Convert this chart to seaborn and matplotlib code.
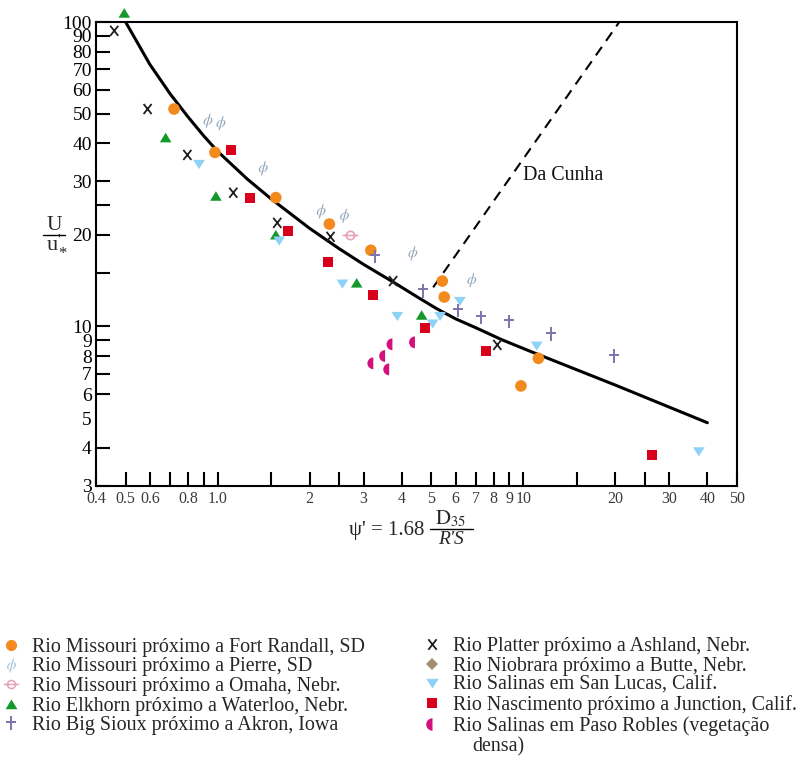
import numpy as np
import pandas as pd
import matplotlib
matplotlib.use("Agg")
import matplotlib.pyplot as plt
import seaborn as sns
from matplotlib.lines import Line2D
from matplotlib.markers import MarkerStyle
from matplotlib.path import Path

# ---------------- data ----------------
fort_randall_x = [0.72, 0.98, 1.55, 2.32, 3.17, 5.43, 5.51, 9.82, 11.2]
fort_randall_y = [51.8, 37.3, 26.5, 21.7, 17.8, 14.1, 12.5, 6.38, 7.86]
pierre_x = [0.93, 1.025, 1.41, 2.18, 2.60, 4.35, 6.78]
pierre_y = [47.4, 46.5, 33.1, 23.9, 23.1, 17.4, 14.2]
omaha_x = [2.72]
omaha_y = [19.9]
elkhorn_x = [0.495, 0.676, 0.987, 1.55, 2.85, 4.65]
elkhorn_y = [107.0, 41.7, 26.8, 20.0, 13.9, 10.9]
big_sioux_x = [3.27, 4.69, 6.10, 7.25, 8.97, 12.3, 19.8]
big_sioux_y = [17.0, 13.1, 11.3, 10.7, 10.4, 9.43, 8.0]
platte_x = [0.459, 0.59, 0.796, 1.125, 1.567, 2.34, 3.75, 8.22]
platte_y = [93.6, 51.8, 36.6, 27.5, 21.9, 19.7, 14.1, 8.70]
niobrara_x = []
niobrara_y = []
san_lucas_x = [0.869, 1.59, 2.56, 3.87, 5.05, 5.34, 6.20, 11.06, 37.5]
san_lucas_y = [34.1, 19.1, 13.8, 10.8, 10.2, 10.8, 12.1, 8.63, 3.88]
nascimento_x = [1.103, 1.273, 1.70, 2.30, 3.23, 4.77, 7.56, 26.4]
nascimento_y = [37.9, 26.4, 20.6, 16.3, 12.7, 9.9, 8.33, 3.78]
paso_robles_x = [3.73, 4.42, 3.53, 3.23, 3.64]
paso_robles_y = [8.74, 8.87, 8.0, 7.57, 7.23]

curve_x = [0.5, 0.6, 0.7, 0.8, 0.9, 1.0, 1.25, 1.5, 2.0, 2.5, 3.0, 3.75, 4.5, 5.2, 6.0, 7.0, 8.5, 10.5, 20.0, 40.0]
curve_y = [100, 72.6, 58.0, 48.8, 42.3, 37.6, 30.5, 26.2, 21.0, 18.0, 16.0, 14.0, 12.5, 11.45, 10.6, 9.9, 9.05, 8.3, 6.42, 4.83]
dacunha_x = [5.07, 20.6]
dacunha_y = [13.45, 100]

xticks = [0.4, 0.5, 0.6, 0.7, 0.8, 0.9, 1.0, 1.5, 2, 2.5, 3, 4, 5, 6, 7, 8, 9, 10, 15, 20, 25, 30, 40, 50]
xticklabels = ["0.4", "0.5", "0.6", "", "0.8", "", "1.0", "", "2", "", "3", "4", "5", "6", "7", "8", "9", "10",
               "", "20", "", "30", "40", "50"]
yticks = [3, 4, 5, 6, 7, 8, 9, 10, 15, 20, 25, 30, 40, 50, 60, 70, 80, 90, 100]
yticklabels = ["3", "4", "5", "6", "7", "8", "9", "10", "", "20", "", "30", "40", "50", "60", "70", "80", "90", "100"]

labels = [
    "Rio Missouri próximo a Fort Randall, SD",
    "Rio Missouri próximo a Pierre, SD",
    "Rio Missouri próximo a Omaha, Nebr.",
    "Rio Elkhorn próximo a Waterloo, Nebr.",
    "Rio Big Sioux próximo a Akron, Iowa",
    "Rio Platter próximo a Ashland, Nebr.",
    "Rio Niobrara próximo a Butte, Nebr.",
    "Rio Salinas em San Lucas, Calif.",
    "Rio Nascimento próximo a Junction, Calif.",
    "Rio Salinas em Paso Robles (vegetação",
]

# ---------------- style ----------------
sns.set_style("white")
plt.rcParams["font.family"] = ["Liberation Serif", "DejaVu Serif"]
plt.rcParams["mathtext.fontset"] = "stix"

# marker shapes
half_left = MarkerStyle("o", fillstyle="left")
tri_up = [(-1.0, -0.8), (1.0, -0.8), (0.0, 0.85)]
tri_down = [(-1.0, 0.75), (1.0, 0.75), (0.0, -0.8)]
cross_path = Path([(0, -1.0), (0, 1.0), (-0.75, 0.2), (0.75, 0.2)],
                  [Path.MOVETO, Path.LINETO, Path.MOVETO, Path.LINETO])
x_path = Path([(-0.8, -1.0), (0.8, 1.0), (-0.8, 1.0), (0.8, -1.0)],
              [Path.MOVETO, Path.LINETO, Path.MOVETO, Path.LINETO])
ominus_path = Path.make_compound_path(
    Path.unit_circle(), Path([(-1.9, 0), (1.9, 0)], [Path.MOVETO, Path.LINETO]))

C_ORANGE = "#F28A1E"
C_PHI = "#93A6BA"
C_PINK = "#E8A2B6"
C_GREEN = "#14982C"
C_PURPLE = "#7D74AD"
C_BLACK = "#1E1E1E"
C_TAN = "#A48C6C"
C_LBLUE = "#8FD2F7"
C_RED = "#D8001B"
C_MAGENTA = "#D4107C"

fig = plt.figure(figsize=(7.96, 7.65), dpi=100)
ax = fig.add_axes([0.1206, 0.3651, 0.8053, 0.6061])
ax.set_xscale("log")
ax.set_yscale("log")

# curve and Da Cunha line
sns.lineplot(x=curve_x, y=curve_y, ax=ax, color="black", linewidth=2.2, sort=False, estimator=None)
sns.lineplot(x=dacunha_x, y=dacunha_y, ax=ax, color="black", linewidth=1.5, sort=False,
             estimator=None, linestyle=(0, (5, 3.5)))

filled = [
    (fort_randall_x, fort_randall_y, "o", C_ORANGE, 70),
    (pierre_x, pierre_y, r"$\phi$", C_PHI, 100),
    (elkhorn_x, elkhorn_y, tri_up, C_GREEN, 70),
    (san_lucas_x, san_lucas_y, tri_down, C_LBLUE, 72),
    (nascimento_x, nascimento_y, "s", C_RED, 52),
    (paso_robles_x, paso_robles_y, half_left, C_MAGENTA, 72),
]
for xs, ys, mk, col, s in filled:
    sns.scatterplot(x=xs, y=ys, ax=ax, marker=mk, color=col, s=s, linewidth=0,
                    edgecolor="none", clip_on=False, zorder=3)

lined = [
    (omaha_x, omaha_y, ominus_path, C_PINK, 130, 1.2),
    (big_sioux_x, big_sioux_y, cross_path, C_PURPLE, 95, 1.4),
    (platte_x, platte_y, x_path, C_BLACK, 52, 1.3),
]
for xs, ys, mk, col, s, lw in lined:
    sns.scatterplot(x=xs, y=ys, ax=ax, marker=mk, color=col, s=s, facecolor="none",
                    edgecolor=col, linewidth=lw, clip_on=False, zorder=3)
sns.scatterplot(x=niobrara_x, y=niobrara_y, ax=ax, marker="D", color=C_TAN, s=40)

ax.set_xlim(0.4, 50)
ax.set_ylim(3, 100)
ax.set_xticks(xticks)
ax.set_xticklabels(xticklabels)
ax.set_yticks(yticks)
ax.set_yticklabels(yticklabels)
ax.minorticks_off()
ax.tick_params(axis="both", which="major", direction="in", length=10, width=1.5, color="black",
               bottom=True, left=True, top=False, right=False)
ax.tick_params(axis="x", labelsize=11.5, labelcolor="#3a3a3a", pad=4)
ax.tick_params(axis="y", labelsize=14, labelcolor="black", pad=3)
ax.yaxis.get_major_ticks()[yticks.index(5)].tick1line.set_visible(False)
for sp in ax.spines.values():
    sp.set_visible(True)
    sp.set_color("black")
    sp.set_linewidth(1.5)
ax.set_xlabel("")
ax.set_ylabel("")

ax.text(10.0, 31.4, "Da Cunha", ha="left", va="center", fontsize=14.4, color="#111111")


def fx(px):
    return px / 796


def fy(py):
    return 1 - py / 765


# y-axis label as a stacked fraction U / u'*
fig.text(fx(54), fy(226), "U", ha="center", va="center", fontsize=15.5)
fig.add_artist(Line2D([fx(43), fx(65)], [fy(234.5), fy(234.5)], color="black", linewidth=1.0))
fig.text(fx(52), fy(246), "u", ha="center", va="center", fontsize=16)
fig.text(fx(58.5), fy(240), "'", ha="center", va="center", fontsize=11)
fig.text(fx(62), fy(254), "*", ha="center", va="center", fontsize=12)

# x-axis label psi' = 1.68 D35 / (R'S)
fig.text(fx(424), fy(531), "ψ' = 1.68", ha="right", va="center", fontsize=15)
fig.text(fx(451), fy(519), r"$\mathrm{D}_{35}$", ha="center", va="center", fontsize=15)
fig.add_artist(Line2D([fx(430), fx(473)], [fy(528.5), fy(528.5)], color="black", linewidth=1.0))
fig.text(fx(451), fy(540), "R'S", ha="center", va="center", fontsize=14, style="italic")

# ---------------- legend ----------------
def h(marker, color, ms, mew=0.0, hollow=False):
    return Line2D([], [], linestyle="none", marker=marker, markersize=ms,
                  markerfacecolor="none" if hollow else color,
                  markeredgewidth=mew, markeredgecolor=color, color=color)


left_handles = [
    h("o", C_ORANGE, 8),
    h(r"$\phi$", "#A9C3DA", 10),
    h(ominus_path, C_PINK, 11, 1.1, hollow=True),
    h(tri_up, C_GREEN, 8.5),
    h(cross_path, C_PURPLE, 9.5, 1.4, hollow=True),
]
right_handles = [
    h(x_path, C_BLACK, 7.5, 1.3, hollow=True),
    h("D", C_TAN, 6.5),
    h(tri_down, C_LBLUE, 9),
    h("s", C_RED, 7),
    h(half_left, C_MAGENTA, 9),
]
common = dict(frameon=False, fontsize=14.4, handlelength=0.9, handletextpad=0.6,
              labelspacing=0.025, borderpad=0, borderaxespad=0, loc="upper left")
leg1 = fig.legend(left_handles, labels[:5], bbox_to_anchor=(fx(2), fy(638)), **common)
leg2 = fig.legend(right_handles, labels[5:], bbox_to_anchor=(fx(423), fy(637)), **common)
fig.text(fx(472), fy(747), "densa)", ha="left", va="center", fontsize=14.4)

fig.savefig("out.png", dpi=100)
